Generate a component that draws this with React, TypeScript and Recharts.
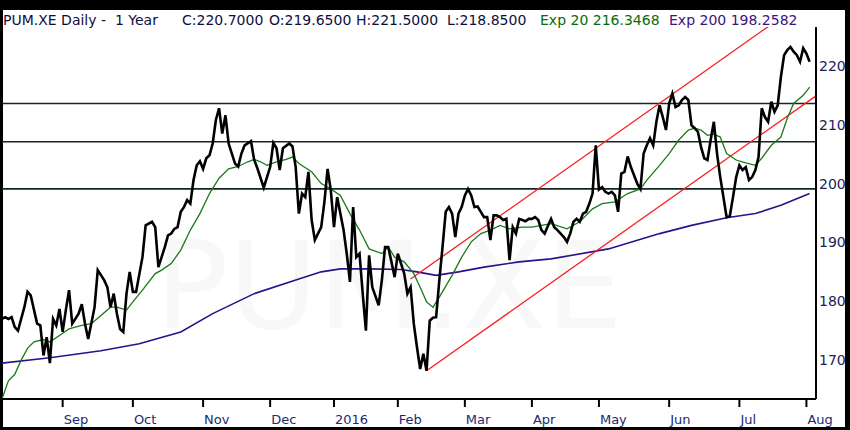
import type { ReactElement } from 'react';
import { ComposedChart, Line, ReferenceLine, XAxis, YAxis } from 'recharts';

// x axis is in trading days from the first bar (early Aug 2015)
const monthTicks = [19, 41, 63, 84, 104, 124, 145, 166, 187, 209, 231, 252];
const monthLabels = ['Sep', 'Oct', 'Nov', 'Dec', '2016', 'Feb', 'Mar', 'Apr', 'May', 'Jun', 'Jul', 'Aug'];
const priceTicks = [170, 180, 190, 200, 210, 220];
const levels = [213.6, 207.1, 199.1];

const closeDays = [
  0, 1, 2, 3, 4, 5, 7, 8, 9, 11, 12, 13, 14, 15, 16, 17, 18, 19, 20, 21, 22, 24, 25, 26, 27, 29,
  30, 32, 33, 34, 35, 36, 37, 38, 39, 40, 41, 42, 44, 45, 47, 48, 49, 51, 52, 53, 54, 55, 56, 57,
  58, 59, 60, 61, 62, 63, 64, 65, 66, 67, 68, 69, 70, 71, 73, 74, 75, 76, 78, 79, 80, 82, 84, 85,
  86, 87, 88, 90, 91, 92, 93, 94, 95, 96, 97, 98, 100, 101, 102, 103, 104, 105, 107, 108, 109,
  110, 111, 112, 113, 114, 115, 116, 118, 119, 120, 121, 122, 123, 124, 125, 126, 127, 128, 129,
  130, 131, 132, 133, 134, 135, 136, 137, 138, 139, 140, 141, 142, 143, 144, 145, 146, 147, 148,
  149, 150, 151, 152, 153, 154, 155, 156, 157, 158, 159, 160, 161, 162, 163, 164, 165, 166, 167,
  168, 169, 170, 171, 172, 173, 174, 176, 177, 178, 179, 180, 181, 182, 183, 184, 185, 186, 187,
  188, 189, 190, 191, 192, 193, 194, 195, 196, 197, 198, 199, 200, 201, 202, 203, 204, 205, 206,
  207, 208, 209, 210, 211, 212, 213, 214, 215, 216, 217, 218, 219, 220, 221, 222, 223, 224, 225,
  226, 227, 228, 229, 230, 231, 232, 233, 234, 235, 236, 237, 238, 239, 240, 241, 242, 243, 244,
  245, 246, 247, 248, 249, 250, 251, 252, 253,
];
const closeValues = [
  177.0, 177.3, 177.0, 177.3, 175.6, 175.0, 179.0, 181.6, 181.0, 176.2, 175.9, 170.8, 173.9, 169.5,
  177.0, 175.9, 178.7, 174.8, 178.5, 181.9, 176.2, 177.9, 179.5, 176.2, 173.6, 179.0, 185.3, 183.6,
  182.4, 179.0, 181.3, 177.9, 175.3, 174.8, 181.3, 185.0, 181.6, 181.6, 187.5, 192.9, 193.5, 192.6,
  185.8, 189.2, 191.2, 191.5, 192.3, 192.6, 195.2, 196.0, 197.2, 196.6, 200.6, 203.1, 203.8, 202.5,
  204.3, 204.8, 206.8, 210.8, 212.8, 208.5, 211.6, 206.8, 203.4, 202.9, 205.1, 206.5, 207.2, 204.0,
  202.6, 199.3, 202.8, 206.9, 206.0, 202.3, 206.0, 206.8, 206.3, 202.8, 194.9, 198.3, 197.7, 202.0,
  193.8, 190.4, 192.6, 196.9, 202.5, 198.9, 192.6, 197.7, 192.1, 188.1, 183.3, 196.0, 187.5, 188.1,
  181.3, 175.0, 187.8, 182.4, 179.3, 183.6, 189.2, 189.2, 186.7, 184.1, 188.1, 186.4, 184.7, 181.3,
  182.4, 176.2, 172.2, 168.5, 171.1, 168.2, 176.7, 177.2, 177.3, 183.6, 189.2, 195.2, 196.0, 194.9,
  190.9, 194.9, 196.0, 198.0, 199.1, 198.0, 196.0, 196.1, 195.2, 194.3, 194.3, 190.4, 194.6, 194.6,
  194.3, 193.8, 194.0, 187.0, 192.6, 191.5, 194.0, 193.8, 193.6, 194.0, 194.0, 194.3, 193.8, 192.1,
  191.5, 192.8, 194.0, 192.6, 192.1, 190.9, 190.1, 191.5, 193.5, 194.0, 193.5, 194.9, 195.2, 196.6,
  198.3, 206.5, 199.0, 199.4, 198.6, 198.3, 198.6, 198.0, 195.2, 201.7, 202.0, 204.6, 202.8, 201.4,
  200.0, 199.1, 205.1, 206.5, 207.7, 206.5, 210.5, 213.3, 211.3, 209.1, 213.6, 215.3, 213.0, 213.3,
  214.2, 214.7, 214.2, 209.9, 209.4, 208.8, 206.2, 204.3, 204.0, 207.4, 210.5, 205.1, 201.1, 197.7,
  194.3, 194.5, 197.7, 201.1, 203.1, 202.3, 202.8, 200.6, 201.1, 202.3, 204.5, 212.8, 211.3, 210.5,
  213.9, 212.2, 213.3, 218.1, 221.8, 222.7, 223.2, 222.4, 221.8, 220.7, 223.0, 222.1, 220.7,
];

const ema20Days = [
  0, 2, 4, 6, 8, 10, 13, 15, 18, 21, 25, 28, 31, 34, 36, 39, 41, 44, 48, 50, 53, 56, 59, 62, 65,
  68, 71, 74, 77, 79, 81, 83, 86, 89, 91, 93, 97, 100, 103, 106, 109, 112, 115, 119, 121, 123,
  126, 129, 131, 133, 135, 137, 141, 144, 147, 150, 153, 156, 159, 163, 166, 169, 172, 177, 181,
  185, 188, 192, 196, 200, 202, 206, 209, 212, 215, 217, 219, 221, 223, 225, 227, 230, 233, 236,
  238, 241, 244, 246, 248, 251, 253,
];
const ema20Values = [
  163.4, 166.5, 167.6, 170.0, 172.0, 173.1, 173.5, 173.1, 174.2, 175.3, 175.9, 176.2, 177.6, 179.0,
  179.0, 178.5, 179.9, 181.9, 184.7, 185.3, 186.4, 188.7, 192.1, 194.9, 198.3, 200.9, 202.5, 202.9,
  203.7, 204.1, 203.7, 203.1, 203.7, 204.1, 204.5, 203.4, 202.0, 200.0, 199.1, 198.0, 194.9, 192.1,
  188.9, 188.1, 189.2, 187.5, 186.7, 184.7, 182.4, 179.9, 179.0, 180.7, 184.4, 187.5, 190.1, 191.5,
  192.1, 192.9, 192.3, 192.6, 192.6, 192.9, 193.2, 192.3, 193.5, 195.7, 196.6, 196.9, 198.3, 199.1,
  200.6, 203.1, 205.1, 207.4, 209.1, 209.4, 209.1, 208.2, 208.4, 207.9, 205.1, 204.0, 203.5, 203.1,
  204.3, 206.5, 207.9, 211.1, 213.6, 215.0, 216.4,
];

const ema200Days = [
  0, 15, 31, 43, 56, 66, 79, 93, 100, 106, 115, 125, 130, 136, 143, 151, 162, 172, 190, 206, 216,
  227, 236, 244, 253,
];
const ema200Values = [
  169.5, 170.4, 171.6, 172.8, 174.8, 177.9, 181.3, 183.8, 185.0, 185.5, 185.5, 185.4, 185.0, 184.4,
  185.0, 185.8, 186.7, 187.2, 188.9, 191.5, 192.9, 194.2, 194.9, 196.3, 198.3,
];

const upperChannelDays = [128, 255];
const upperChannelValues = [183.8, 232.4];
const lowerChannelDays = [133, 255];
const lowerChannelValues = [168.2, 214.9];

const FONT = '"DejaVu Sans", Verdana, sans-serif';

function zip(days: number[], values: number[]) {
  return days.map((day, i) => ({ day, v: values[i] }));
}

function MonthTick(props: any): ReactElement {
  const { x, y, payload } = props;
  const label = monthLabels[monthTicks.indexOf(payload.value)];
  return (
    <text x={x + 1} y={y + 15} textAnchor="start" fontSize={13} fontFamily={FONT} fill="#1b2a6e">
      {label}
    </text>
  );
}

function PriceTick(props: any): ReactElement {
  const { x, y, payload } = props;
  return (
    <text x={x} y={y + 5} textAnchor="start" fontSize={14} fontFamily={FONT} fill="#1b2258">
      {payload.value}
    </text>
  );
}

const titleParts = [
  { text: 'PUM.XE Daily -  1 Year', left: 3, color: '#0e0e3e' },
  { text: 'C:220.7000', left: 182, color: '#0e0e3e' },
  { text: 'O:219.6500', left: 269, color: '#0e0e3e' },
  { text: 'H:221.5000', left: 356, color: '#0e0e3e' },
  { text: 'L:218.8500', left: 447, color: '#0e0e3e' },
  { text: 'Exp 20 216.3468', left: 540, color: '#0b6a0b' },
  { text: 'Exp 200 198.2582', left: 669, color: '#3a1580' },
];

export default function App(): ReactElement {
  const close = zip(closeDays, closeValues);
  const ema20 = zip(ema20Days, ema20Values);
  const ema200 = zip(ema200Days, ema200Values);
  const upper = zip(upperChannelDays, upperChannelValues);
  const lower = zip(lowerChannelDays, lowerChannelValues);

  return (
    <div
      style={{
        position: 'absolute',
        left: 0,
        top: 0,
        width: 850,
        height: 430,
        background: '#000',
        overflow: 'hidden',
      }}
    >
      <div style={{ position: 'absolute', left: 3, top: 10, width: 842, height: 417, background: '#fff' }} />
      <div
        style={{
          position: 'absolute',
          left: 155,
          top: 225,
          fontFamily: FONT,
          fontSize: 122,
          lineHeight: '122px',
          color: '#f8f8f8',
          whiteSpace: 'nowrap',
        }}
      >
        PUM.XE
      </div>
      {titleParts.map((p) => (
        <div
          key={p.text}
          style={{
            position: 'absolute',
            left: p.left,
            top: 12,
            fontFamily: FONT,
            fontSize: 14,
            lineHeight: '16px',
            color: p.color,
            whiteSpace: 'pre',
          }}
        >
          {p.text}
        </div>
      ))}
      <div style={{ position: 'absolute', left: 0, top: 0 }}>
        <ComposedChart width={850} height={430} margin={{ top: 27, right: 0, bottom: 0, left: 2 }}>
          <XAxis
            type="number"
            dataKey="day"
            domain={[0, 255]}
            ticks={monthTicks}
            allowDataOverflow
            height={31}
            tickSize={8}
            axisLine={{ stroke: '#000', strokeWidth: 2 }}
            tickLine={{ stroke: '#000', strokeWidth: 2 }}
            tick={<MonthTick />}
          />
          <YAxis
            orientation="right"
            type="number"
            domain={[163.4, 226.6]}
            ticks={priceTicks}
            allowDataOverflow
            width={34}
            tickSize={0}
            tickMargin={3}
            tickLine={false}
            axisLine={{ stroke: '#000', strokeWidth: 2 }}
            tick={<PriceTick />}
          />
          {levels.map((lv) => (
            <ReferenceLine key={lv} y={lv} stroke="#142626" strokeWidth={1.6} />
          ))}
          <Line data={ema200} dataKey="v" type="linear" stroke="#2c108c" strokeWidth={1.6} dot={false} isAnimationActive={false} />
          <Line data={upper} dataKey="v" type="linear" stroke="#ff1c1c" strokeWidth={1.3} dot={false} isAnimationActive={false} />
          <Line data={lower} dataKey="v" type="linear" stroke="#ff1c1c" strokeWidth={1.3} dot={false} isAnimationActive={false} />
          <Line data={ema20} dataKey="v" type="linear" stroke="#1a7a1a" strokeWidth={1.3} dot={false} isAnimationActive={false} />
          <Line data={close} dataKey="v" type="linear" stroke="#000" strokeWidth={2.6} dot={false} isAnimationActive={false} />
        </ComposedChart>
      </div>
    </div>
  );
}
